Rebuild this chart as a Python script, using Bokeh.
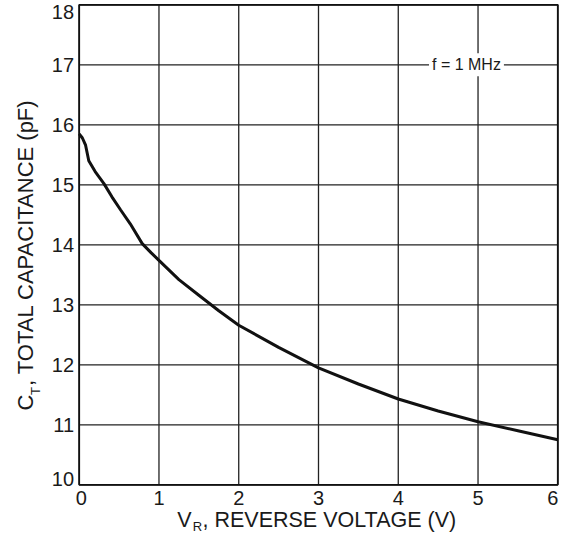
import math
from bokeh.plotting import figure
from bokeh.models import Label, Range1d
from bokeh.core.properties import value
from bokeh.embed import file_html
from bokeh.resources import INLINE

# ---- data ----
vr = [0.0, 0.04, 0.08, 0.12, 0.2, 0.31, 0.41, 0.52, 0.64, 0.79, 0.9, 1.0,
      1.25, 1.5, 1.75, 2.0, 2.5, 3.0, 3.5, 4.0, 4.5, 5.0, 5.5, 6.0]
ct = [15.85, 15.78, 15.66, 15.40, 15.22, 15.02, 14.80, 14.58, 14.35, 14.02, 13.87, 13.74,
      13.42, 13.16, 12.90, 12.66, 12.29, 11.95, 11.68, 11.43, 11.23, 11.05, 10.90, 10.75]

x_ticks = [0, 1, 2, 3, 4, 5, 6]
x_tick_labels = ["0", "1", "2", "3", "4", "5", "6"]
y_ticks = [10, 11, 12, 13, 14, 15, 16, 17, 18]
y_tick_labels = ["10", "11", "12", "13", "14", "15", "16", "17", "18"]

FONT = "Liberation Sans"
TXT = "#1a1a1a"
W, H = 567, 534

# pixel layout of the chart area inside the canvas
LEFT, RIGHT, TOP, BOTTOM = 78.7, 557.3, 4.3, 484.3
xmin, xmax = x_ticks[0], x_ticks[-1]
ymin, ymax = y_ticks[0], y_ticks[-1]
sx = (RIGHT - LEFT) / (xmax - xmin)
sy = (BOTTOM - TOP) / (ymax - ymin)


def dx(px):
    return xmin + (px - LEFT) / sx


def dy(py):
    return ymax - (py - TOP) / sy


p = figure(width=W, height=H, output_backend="svg", toolbar_location=None,
           x_range=Range1d(dx(0), dx(W)), y_range=Range1d(dy(H), dy(0)),
           min_border=0)
p.xaxis.visible = False
p.yaxis.visible = False
p.xgrid.visible = False
p.ygrid.visible = False
p.outline_line_color = None
p.background_fill_color = "white"
p.border_fill_color = "white"

# grid
p.segment(x0=x_ticks, y0=[ymin] * len(x_ticks), x1=x_ticks, y1=[ymax] * len(x_ticks),
          line_color="#222222", line_width=1.3)
p.segment(x0=[xmin] * len(y_ticks), y0=y_ticks, x1=[xmax] * len(y_ticks), y1=y_ticks,
          line_color="#222222", line_width=1.3)
# frame
p.quad(left=[xmin], right=[xmax], bottom=[ymin], top=[ymax], fill_color=None,
       line_color="#111111", line_width=1.8)

# curve
p.line(vr, ct, line_color="#111111", line_width=3)

# x tick labels
x_off = [2 if v == xmin else (-5 if v == xmax else 0) for v in x_ticks]
p.text(x=x_ticks, y=[dy(497)] * len(x_ticks), text=x_tick_labels, x_offset=x_off,
       text_align="center", text_baseline="middle", text_font=value(FONT),
       text_font_size="20px", text_color=TXT)

# y tick labels
y_off = [-6 if v == ymin else (6.7 if v == ymax else 0) for v in y_ticks]
p.text(x=[dx(73.5)] * len(y_ticks), y=y_ticks, text=y_tick_labels, y_offset=y_off,
       text_align="right", text_baseline="middle", text_font=value(FONT),
       text_font_size="20px", text_color=TXT)

# x axis title with subscript
p.text(x=[dx(176.7)], y=[dy(519.2)], text=["V"], text_align="left",
       text_baseline="middle", text_font=value(FONT), text_font_size="21.5px",
       text_color=TXT)
p.text(x=[dx(192.3)], y=[dy(526.3)], text=["R"], text_align="left",
       text_baseline="middle", text_font=value(FONT), text_font_size="13px",
       text_color=TXT)
p.text(x=[dx(202)], y=[dy(519.2)], text=[", REVERSE VOLTAGE (V)"], text_align="left",
       text_baseline="middle", text_font=value(FONT), text_font_size="21.5px",
       text_color=TXT)

# y axis title with subscript (rotated)
p.text(x=[dx(25.3)], y=[dy(410)], text=["C"], angle=math.pi / 2, text_align="left",
       text_baseline="middle", text_font=value(FONT), text_font_size="22px",
       text_color=TXT)
p.text(x=[dx(35.3)], y=[dy(394.5)], text=["T"], angle=math.pi / 2, text_align="left",
       text_baseline="middle", text_font=value(FONT), text_font_size="13px",
       text_color=TXT)
p.text(x=[dx(25.3)], y=[dy(385.5)], text=[", TOTAL CAPACITANCE (pF)"], angle=math.pi / 2,
       text_align="left", text_baseline="middle", text_font=value(FONT),
       text_font_size="22px", text_color=TXT)

# annotation
p.add_layout(Label(x=4.855, y=17, text="f = 1 MHz", text_align="center",
                   text_baseline="middle", text_font=FONT, text_font_size="16px",
                   text_color=TXT, background_fill_color="white", padding=3))

open("out.html", "w").write(file_html(p, INLINE))
